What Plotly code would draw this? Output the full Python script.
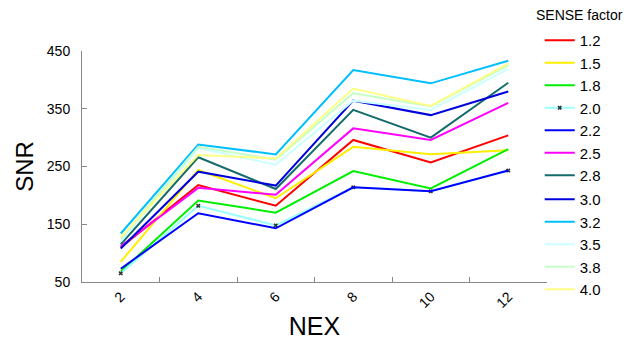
import plotly.graph_objects as go

nex = ["2", "4", "6", "8", "10", "12"]
factors = ["1.2", "1.5", "1.8", "2.0", "2.2", "2.5", "2.8", "3.0", "3.2", "3.5", "3.8", "4.0"]

snr_1_2 = [110, 218, 182, 296, 257, 304]
snr_1_5 = [85, 244, 195, 284, 271, 278]
snr_1_8 = [68, 191, 170, 242, 212, 280]
snr_2_0 = [65, 182, 148, 214, 207, 243]
snr_2_2 = [73, 169, 143, 214, 207, 243]
snr_2_5 = [112, 213, 201, 316, 296, 360]
snr_2_8 = [115, 266, 211, 348, 300, 395]
snr_3_0 = [108, 241, 217, 364, 339, 380]
snr_3_2 = [134, 288, 271, 417, 394, 433]
snr_3_5 = [120, 282, 253, 364, 348, 419]
snr_3_8 = [125, 284, 262, 377, 354, 425]
snr_4_0 = [128, 270, 264, 385, 355, 428]

series = [snr_1_2, snr_1_5, snr_1_8, snr_2_0, snr_2_2, snr_2_5,
          snr_2_8, snr_3_0, snr_3_2, snr_3_5, snr_3_8, snr_4_0]
colors = ["#FF0000", "#FFEE00", "#00EE00", "#99FFFF", "#0000FF", "#FF00FF",
          "#136B6B", "#0000DD", "#00BFFF", "#CCFFFF", "#C8FFC8", "#FFFF88"]

fig = go.Figure()
for i, (name, vals, col) in enumerate(zip(factors, series, colors)):
    marker = dict(size=4, color="#333333", symbol="x") if name == "2.0" else dict(size=1)
    mode = "lines+markers" if name == "2.0" else "lines"
    fig.add_trace(go.Scatter(x=nex, y=vals, name=name, mode=mode,
                             legend="legend" if i < 7 else "legend2",
                             line=dict(color=col, width=2), marker=marker))

font = "Liberation Sans, Arial, sans-serif"
leg_common = dict(xref="container", xanchor="left", yref="container", yanchor="top",
                  font=dict(size=15), tracegroupgap=0, itemwidth=30,
                  bgcolor="rgba(0,0,0,0)")
fig.update_layout(
    width=632, height=340,
    margin=dict(l=82, r=85, t=51, b=58, autoexpand=False),
    paper_bgcolor="white", plot_bgcolor="white",
    font=dict(family=font, color="black", size=14),
    showlegend=True,
    legend=dict(x=0.854, y=0.9294, **leg_common),
    legend2=dict(x=0.854, y=0.462, **leg_common),
    annotations=[dict(text="SENSE factor", x=1.168, xref="paper", xanchor="right",
                      y=1.154, yref="paper", yanchor="middle",
                      showarrow=False, font=dict(size=14, family=font))],
    xaxis=dict(type="category", range=[-0.5, 5.5], showline=True, linecolor="#888888",
               linewidth=1, ticks="inside", ticklen=5, tickcolor="#888888",
               tickson="boundaries", tickangle=-45, showgrid=False, zeroline=False,
               title=dict(text="NEX", font=dict(size=25), standoff=14),
               tickfont=dict(size=14)),
    yaxis=dict(range=[50, 450], tickvals=[50, 150, 250, 350, 450], showline=True,
               linecolor="#888888", linewidth=1, ticks="inside", ticklen=5,
               tickcolor="#888888", showgrid=False, zeroline=False,
               ticklabelstandoff=8,
               title=dict(text="SNR", font=dict(size=24), standoff=6),
               tickfont=dict(size=14)),
)
fig.write_html("out.html", config={"displayModeBar": False},
               post_script="document.body.style.margin='0';")
